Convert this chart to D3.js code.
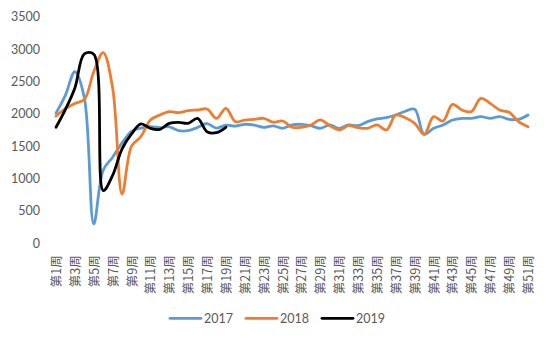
<!DOCTYPE html>
<html>
<head>
<meta charset="utf-8">
<script src="https://cdn.jsdelivr.net/npm/d3@7"></script>
<style>
  html, body { margin: 0; padding: 0; background: #fff; }
  svg { display: block; }
  text { font-family: "Lato", "Noto Sans CJK SC", sans-serif; fill: #595959; }
</style>
</head>
<body>
<svg id="chart" width="550" height="341"></svg>
<script>
// ---- data ----
const weeks = d3.range(1, 52).map(i => "第" + i + "周");
const yTicks = [0, 500, 1000, 1500, 2000, 2500, 3000, 3500];
const seriesNames = ["2017", "2018", "2019"];
const seriesColors = ["#5B9BD5", "#ED7D31", "#000000"];

const values2017 = [2010, 2290, 2650, 2250, 300, 1130, 1330, 1550, 1730, 1780,
  1800, 1785, 1800, 1740, 1740, 1790, 1850, 1780, 1825, 1810,
  1838, 1827, 1790, 1815, 1776, 1828, 1838, 1817, 1776, 1828,
  1776, 1828, 1817, 1879, 1920, 1941, 1982, 2040, 2070, 1683,
  1776, 1827, 1904, 1930, 1930, 1956, 1930, 1956, 1915, 1915, 1982];
const values2018 = [1966, 2080, 2160, 2220, 2650, 2944, 2400, 760, 1500, 1650,
  1904, 1982, 2033, 2018, 2049, 2059, 2074, 1930, 2085, 1879,
  1904, 1915, 1930, 1870, 1889, 1792, 1792, 1828, 1905, 1817,
  1750, 1817, 1786, 1776, 1828, 1750, 1982, 1940, 1853, 1683,
  1956, 1889, 2146, 2059, 2033, 2239, 2162, 2059, 2023, 1879, 1801];
const values2019 = [1792, 2070, 2400, 2925, 2920, 815, 1050, 1460, 1690, 1845,
  1776, 1760, 1853, 1868, 1853, 1930, 1724, 1709, 1791];

const allSeries = [values2017, values2018, values2019];

// ---- layout ----
const svg = d3.select("#chart");
const x = d3.scalePoint().domain(weeks).range([56, 528]);
const y = d3.scaleLinear().domain([0, 3500]).range([243.3, 16.7]);

// y axis
const yAxis = svg.append("g")
  .attr("transform", "translate(48,0)")
  .call(d3.axisLeft(y).tickValues(yTicks).tickSize(0).tickPadding(8).tickFormat(d3.format("d")));
yAxis.select(".domain").remove();
yAxis.selectAll("text").style("font-size", "12.5px").style("font-family", "Lato, sans-serif").attr("fill", "#595959");

// x axis
const xAxis = svg.append("g")
  .attr("transform", "translate(0,243.3)")
  .call(d3.axisBottom(x).tickSize(0).tickFormat((d, i) => (i % 2 === 0 ? d : "")));
xAxis.select(".domain").remove();
xAxis.selectAll("text")
  .attr("x", 0).attr("y", 0).attr("dy", "0.36em")
  .attr("text-anchor", "end")
  .attr("transform", "translate(0,12) rotate(-90)")
  .style("font-size", "12.5px")
  .style("font-family", "'Noto Sans CJK SC', sans-serif")
  .attr("fill", "#595959");

// lines
const line = d3.line()
  .x((d, i) => x(weeks[i]))
  .y(d => y(d))
  .curve(d3.curveCatmullRom.alpha(0.5));

allSeries.forEach((vals, k) => {
  svg.append("path")
    .datum(vals)
    .attr("fill", "none")
    .attr("stroke", seriesColors[k])
    .attr("stroke-width", 2.8)
    .attr("stroke-linejoin", "round")
    .attr("stroke-linecap", "round")
    .attr("d", line);
});

// legend
const legendX = [170, 246, 322];
const legend = svg.append("g");
seriesNames.forEach((name, k) => {
  const g = legend.append("g").attr("transform", `translate(${legendX[k]},318.3)`);
  g.append("line").attr("x1", 0).attr("x2", 31).attr("y1", 0).attr("y2", 0)
    .attr("stroke", seriesColors[k]).attr("stroke-width", 2.8).attr("stroke-linecap", "round");
  g.append("text").attr("x", 34).attr("y", 0).attr("dy", "0.35em")
    .style("font-size", "12.5px").style("font-family", "Lato, sans-serif")
    .attr("fill", "#595959").text(name);
});
</script>
</body>
</html>
